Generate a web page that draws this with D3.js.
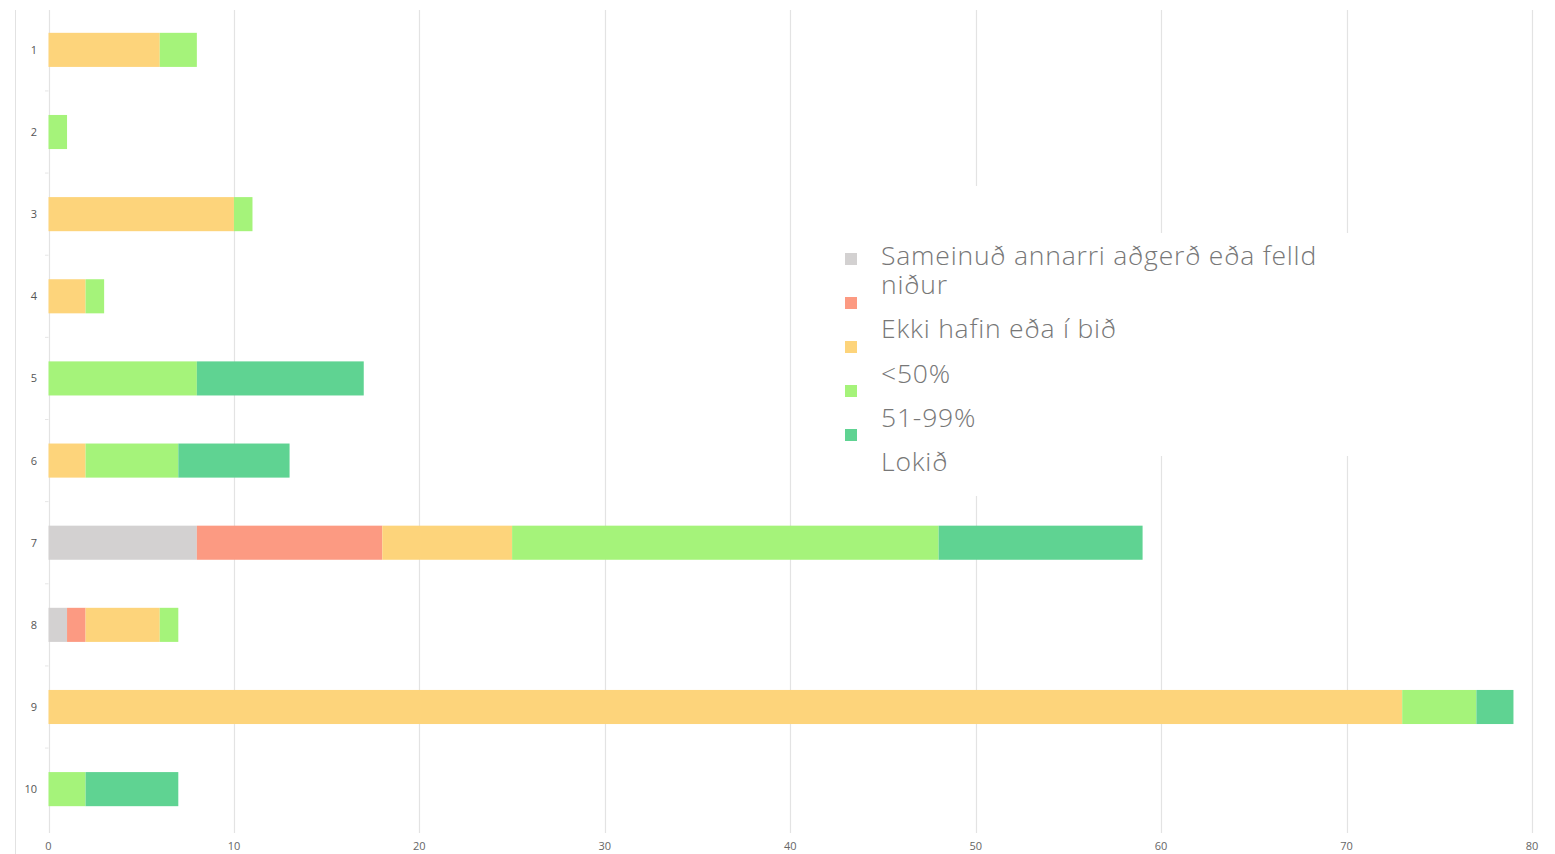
<!DOCTYPE html>
<html><head><meta charset="utf-8">
<script src="https://cdn.jsdelivr.net/npm/d3@7"></script>
<style>body{margin:0;background:#fff;}svg{display:block;}</style>
</head><body>
<svg id="c" width="1555" height="854"></svg>
<script>
const categories = ["1","2","3","4","5","6","7","8","9","10"];
const seriesNames = ["Sameinuð annarri aðgerð eða felld niður","Ekki hafin eða í bið","<50%","51-99%","Lokið"];
const sameinud = [0,0,0,0,0,0,8,1,0,0];
const ekkiHafin = [0,0,0,0,0,0,10,1,0,0];
const under50 = [6,0,10,2,0,2,7,4,73,0];
const p51to99 = [2,1,1,1,8,5,23,1,4,2];
const lokid = [0,0,0,0,9,6,11,0,2,5];
const xTicks = [0,10,20,30,40,50,60,70,80];
const colors = ["#d3d1d1","#fc9a82","#fdd47b","#a5f37a","#5fd392"];
const legendLabels = ["Sameinuð annarri aðgerð eða felld","niður","Ekki hafin eða í bið","<50%","51-99%","Lokið"];

const svg = d3.select("#c");
const x = d3.scaleLinear().domain([0,80]).range([48.5,1532]);
const y = d3.scaleBand().domain(categories).range([9,830]).paddingInner(0.585).paddingOuter(0.29);

// left frame line
svg.append("line").attr("x1",15.5).attr("x2",15.5).attr("y1",10).attr("y2",854).attr("stroke","#e2e2e2");

// gridlines
svg.append("g").selectAll("line").data(xTicks).join("line")
  .attr("x1",d=>Math.round(x(d))+0.5).attr("x2",d=>Math.round(x(d))+0.5)
  .attr("y1",10).attr("y2",833).attr("stroke","#e3e3e3").attr("stroke-width",1.2);

// x tick labels
svg.append("g").selectAll("text").data(xTicks).join("text")
  .attr("x",d=>x(d)).attr("y",850).attr("text-anchor","middle")
  .attr("font-family","Open Sans, sans-serif").attr("font-size",11).attr("fill","#666")
  .text(d=>d);

// y axis ticks between categories
const step = y.step();
svg.append("g").selectAll("line").data(categories.slice(1)).join("line")
  .attr("x1",45).attr("x2",48.5)
  .attr("y1",d=>y(d)+y.bandwidth()/2-step/2).attr("y2",d=>y(d)+y.bandwidth()/2-step/2)
  .attr("stroke","#e6e6e6");

// y labels
svg.append("g").selectAll("text").data(categories).join("text")
  .attr("x",37).attr("y",d=>y(d)+y.bandwidth()/2+4).attr("text-anchor","end")
  .attr("font-family","Open Sans, sans-serif").attr("font-size",11).attr("fill","#555")
  .text(d=>d);

// stacked bars
const rows = categories.map((c,i)=>({cat:c, s0:sameinud[i], s1:ekkiHafin[i], s2:under50[i], s3:p51to99[i], s4:lokid[i]}));
const stack = d3.stack().keys(["s0","s1","s2","s3","s4"])(rows);
svg.append("g").selectAll("g").data(stack).join("g").attr("fill",(d,i)=>colors[i])
  .selectAll("rect").data(d=>d).join("rect")
  .attr("x",d=>x(d[0])).attr("width",d=>x(d[1])-x(d[0]))
  .attr("y",d=>y(d.data.cat)).attr("height",y.bandwidth());

// legend background
svg.append("rect").attr("x",845).attr("y",186).attr("width",260).attr("height",310).attr("fill","#fff");
svg.append("rect").attr("x",845).attr("y",233).attr("width",508).attr("height",223).attr("fill","#fff");

// legend squares
svg.append("g").selectAll("rect").data(colors).join("rect")
  .attr("x",845).attr("y",(d,i)=>253+i*44).attr("width",12).attr("height",12).attr("fill",d=>d);

// legend text
const ly = [265,294,338,383,427,471];
svg.append("g").selectAll("text").data(legendLabels).join("text")
  .attr("x",881).attr("y",(d,i)=>ly[i])
  .attr("font-family","Open Sans, sans-serif").attr("font-weight",300).attr("font-size",26.5)
  .attr("letter-spacing",0.8).attr("fill","#777")
  .text(d=>d);
</script>
</body></html>
